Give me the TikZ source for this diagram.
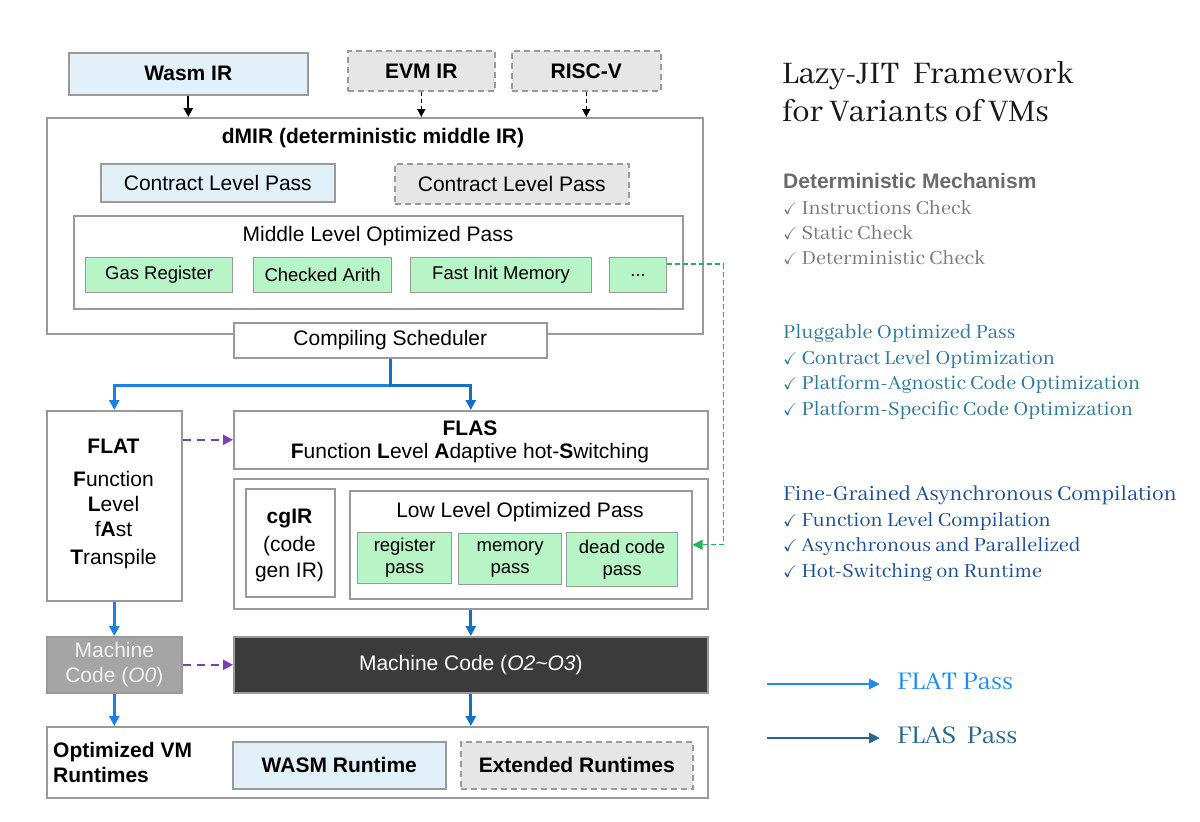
\documentclass[tikz,border=0pt]{standalone}
\usepackage{amssymb}
\usepackage{fontspec}
\setsansfont{Liberation Sans}
\newfontfamily\rfont{Abhaya Libre}
\newcommand{\ck}{{\fontsize{17}{17}\selectfont$\checkmark$}}
\usetikzlibrary{arrows.meta,calc}
\definecolor{bgray}{HTML}{9A9A9A}
\definecolor{lblue}{HTML}{E2F0F9}
\definecolor{lgray}{HTML}{E6E6E6}
\definecolor{lgreen}{HTML}{B8F5C6}
\definecolor{gline}{HTML}{22B45A}
\definecolor{purp}{HTML}{7A3FB0}
\definecolor{flatblue}{HTML}{1A80E8}
\definecolor{flasblue}{HTML}{1570C4}
\definecolor{legflas}{HTML}{25658F}
\definecolor{mczero}{HTML}{A5A5A5}
\definecolor{mctwo}{HTML}{3B3B3B}
\definecolor{detgray}{HTML}{6B6B6B}
\definecolor{itemgray}{HTML}{7A7A7A}
\definecolor{plugblue}{HTML}{2F7AA0}
\definecolor{fineblue}{HTML}{1D4F96}
\definecolor{flatleg}{HTML}{1E8BF5}
\tikzset{
  bx/.style={draw=bgray, line width=1.6pt, inner sep=0pt, anchor=north west, text=black,
    font=\sffamily\fontsize{21}{25}\selectfont},
  bluebx/.style={bx, fill=lblue},
  graybx/.style={bx, fill=lgray, dashed, dash pattern=on 6pt off 4pt},
  greenbx/.style={bx, fill=lgreen, line width=1.2pt, font=\sffamily\fontsize{18.5}{22}\selectfont},
  lbl/.style={inner sep=0pt, font=\sffamily\fontsize{21}{25}\selectfont},
  blkarrow/.style={line width=2.2pt, -{Triangle[length=9pt,width=9pt]}},
  blkdash/.style={line width=1.6pt, dash pattern=on 4pt off 3pt, -{Triangle[length=8pt,width=8pt]}},
  flatarr/.style={draw=flatblue, line width=2.8pt, -{Triangle[length=10pt,width=10pt]}},
  flasarr/.style={draw=flasblue, line width=2.8pt, -{Triangle[length=10pt,width=10pt]}},
  purparr/.style={draw=purp, line width=2.2pt, dash pattern=on 8pt off 6pt, -{Triangle[length=10pt,width=10pt]}},
  greenarr/.style={draw=gline, line width=1.3pt, dash pattern=on 5pt off 3pt, -{Triangle[length=10pt,width=10pt]}},
  rt/.style={inner sep=0pt, anchor=west, text height=14pt, text depth=4pt, font=\rfont\fontsize{22}{24}\selectfont},
}
\begin{document}
\begin{tikzpicture}[x=1pt,y=-1pt]
\useasboundingbox (0,0) rectangle (1200,822);
% top IR boxes
\node[bluebx, minimum width=239pt, minimum height=42pt] (wasm) at (68,52) {\textbf{Wasm IR}};
\node[graybx, minimum width=147pt, minimum height=40pt] (evm) at (347,50) {\textbf{EVM IR}};
\node[graybx, minimum width=149pt, minimum height=40pt] (risc) at (511,50) {\textbf{RISC-V}};
% dMIR
\node[bx, minimum width=656pt, minimum height=216pt] (dmir) at (46,117) {};
\node[lbl] (dmirt) at (373,138) {\textbf{dMIR (deterministic middle IR)}};
\node[bluebx, minimum width=234pt, minimum height=38pt] (clp1) at (100,163) {Contract Level Pass};
\node[graybx, minimum width=234pt, minimum height=40pt] (clp2) at (394,163) {Contract Level Pass};
\node[bx, minimum width=609pt, minimum height=93pt] (mid) at (73,215) {};
\node[lbl] (midt) at (378,236) {Middle Level Optimized Pass};
\node[greenbx, minimum width=147pt, minimum height=35pt] (gas) at (85,257) {Gas Register};
\node[greenbx, minimum width=138pt, minimum height=35pt] (chk) at (253,257) {Checked Arith};
\node[greenbx, minimum width=181pt, minimum height=35pt] (fim) at (410,257) {Fast Init Memory};
\node[greenbx, minimum width=57pt, minimum height=35pt] (dots) at (609,257) {...};
% scheduler
\node[bx, fill=white, minimum width=313pt, minimum height=35pt] (sched) at (233,322) {Compiling Scheduler};
% FLAT
\node[bx, minimum width=135pt, minimum height=190pt] (flat) at (46,410) {};
\node[lbl, align=center, font=\sffamily\fontsize{21}{25}\selectfont] (flatt) at (113.5,504)
  {\textbf{FLAT}\\[8pt]\textbf{F}unction\\\textbf{L}evel\\f\textbf{A}st\\[3pt]\textbf{T}ranspile};
% FLAS
\node[bx, minimum width=474pt, minimum height=58pt] (flas) at (233,410) {};
\node[lbl] (flast) at (470,428) {\textbf{FLAS}};
\node[lbl] (flass) at (470,453) {\textbf{F}unction \textbf{L}evel \textbf{A}daptive hot-\textbf{S}witching};
\node[bx, minimum width=474pt, minimum height=130pt] (flaslow) at (233,478) {};
\node[bx, minimum width=89pt, minimum height=108pt] (cgir) at (245,488) {};
\node[lbl, align=center, font=\sffamily\fontsize{21}{26}\selectfont] (cgirt) at (289.5,545)
  {\textbf{cgIR}\\[2pt](code\\gen IR)};
\node[bx, minimum width=342pt, minimum height=108pt] (lowopt) at (349,490) {};
\node[lbl] (lowt) at (520,512) {Low Level Optimized Pass};
\node[greenbx, minimum width=94pt, minimum height=51pt, align=center, font=\sffamily\fontsize{18.5}{22}\selectfont] (reg) at (357,532) {register\\pass};
\node[greenbx, minimum width=103pt, minimum height=51pt, align=center, font=\sffamily\fontsize{18.5}{22}\selectfont] (mem) at (458,533) {memory\\pass};
\node[greenbx, minimum width=111pt, minimum height=54pt, align=center, font=\sffamily\fontsize{18.5}{22}\selectfont] (dead) at (566,532) {dead code\\pass};
% machine code
\node[bx, fill=mczero, minimum width=135pt, minimum height=56pt, align=center, text=white!94!black, font=\sffamily\fontsize{21}{25}\selectfont] (mc0) at (46,636) {Machine\\Code (\textit{O0})};
\node[bx, fill=mctwo, minimum width=474pt, minimum height=56pt, text=white] (mc2) at (233,636) {Machine Code (\textit{O2\textasciitilde O3})};
% runtimes
\node[bx, minimum width=661pt, minimum height=71pt] (rt) at (46,726) {};
\node[lbl, align=left, anchor=west, font=\sffamily\fontsize{21}{25}\selectfont] (rtt) at (53,762) {\textbf{Optimized VM}\\\textbf{Runtimes}};
\node[bluebx, minimum width=213pt, minimum height=47pt] (wrt) at (232,741) {\textbf{WASM Runtime}};
\node[graybx, minimum width=232pt, minimum height=47pt] (ert) at (460,741) {\textbf{Extended Runtimes}};
% connectors
\draw[blkarrow] (wasm.south) -- (wasm.south |- dmir.north);
\draw[blkdash] (evm.south) -- (evm.south |- dmir.north);
\draw[blkdash] (risc.south) -- (risc.south |- dmir.north);
\draw[flatarr] (sched.south) -- ++(0,27) -| (flat.north);
\draw[flasarr] (sched.south) -- ++(0,27) -| (flas.north);
\draw[flatarr] (flat.south) -- (mc0.north);
\draw[flasarr] (flaslow.south) -- (flaslow.south |- mc2.north);
\draw[flatarr] (mc0.south) -- (mc0.south |- rt.north);
\draw[flasarr] (mc2.south) -- (mc2.south |- rt.north);
\draw[purparr] (flat.east |- flas.west) -- (flas.west);
\draw[purparr] (mc0.east) -- (mc2.west);
\draw[greenarr] ([yshift=11pt]dots.east) -- ++(56,0) |- (lowopt.east);
% right side
\node[inner sep=0pt, anchor=west, align=left, font=\rfont\fontsize{34.5}{38}\selectfont, text=black!90] (title) at (782,92)
  {Lazy-JIT\ \ Framework\\for Variants of VMs};
\node[inner sep=0pt, anchor=west, text=detgray, font=\sffamily\bfseries\fontsize{21}{24}\selectfont] (det) at (783,181) {Deterministic Mechanism};
\node[rt, text=itemgray] (d1) at (783,209) {\ck\ Instructions Check};
\node[rt, text=itemgray] (d2) at (783,234) {\ck\ Static Check};
\node[rt, text=itemgray] (d3) at (783,259) {\ck\ Deterministic Check};
\node[rt, text=plugblue] (p0) at (783,333) {Pluggable Optimized Pass};
\node[rt, text=plugblue] (p1) at (783,359) {\ck\ Contract Level Optimization};
\node[rt, text=plugblue] (p2) at (783,384) {\ck\ Platform-Agnostic Code Optimization};
\node[rt, text=plugblue] (p3) at (783,410) {\ck\ Platform-Specific Code Optimization};
\node[rt, text=fineblue, font=\rfont\fontsize{23.3}{24}\selectfont] (f0) at (783,495) {Fine-Grained Asynchronous Compilation};
\node[rt, text=fineblue] (f1) at (783,521) {\ck\ Function Level Compilation};
\node[rt, text=fineblue] (f2) at (783,546) {\ck\ Asynchronous and Parallelized};
\node[rt, text=fineblue] (f3) at (783,572) {\ck\ Hot-Switching on Runtime};
% legend
\node[rt, text=flatleg, font=\rfont\fontsize{28}{30}\selectfont] (leg1) at (897,684) {FLAT Pass};
\node[rt, text=legflas, font=\rfont\fontsize{28}{30}\selectfont] (leg2) at (897,738) {FLAS\ \ Pass};
\coordinate (l1s) at (767,684);
\coordinate (l2s) at (767,738);
\draw[draw=flatleg, line width=2.8pt, -{Triangle[length=11pt,width=10pt]}] (l1s) -- (880,684);
\draw[draw=legflas, line width=2.8pt, -{Triangle[length=11pt,width=10pt]}] (l2s) -- (880,738);
\end{tikzpicture}
\end{document}
